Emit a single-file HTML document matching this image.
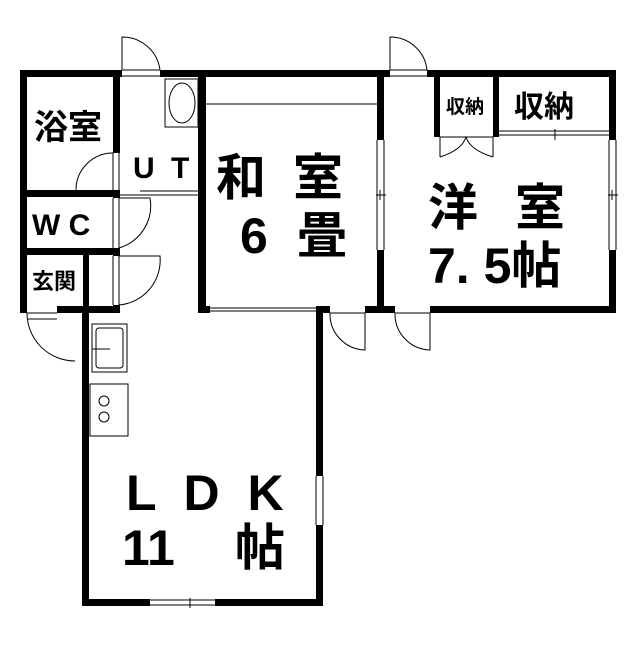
<!DOCTYPE html><html><head><style>body{margin:0;background:#fff}svg text{font-family:"Liberation Sans","Noto Sans CJK JP",sans-serif;fill:#000;font-weight:bold}</style></head><body>
<svg width="640" height="640" viewBox="0 0 640 640" xmlns="http://www.w3.org/2000/svg">
<g fill="#000">
<rect x="20" y="70" width="102" height="7"/><rect x="160" y="70" width="230" height="7"/><rect x="427" y="70" width="189" height="7"/>
<rect x="20" y="70" width="7" height="243"/>
<rect x="113" y="70" width="7" height="83"/><rect x="113" y="190" width="7" height="8"/><rect x="113" y="248" width="7" height="8"/><rect x="113" y="305" width="7" height="8"/>
<rect x="20" y="190" width="100" height="7"/><rect x="20" y="248" width="100" height="7"/>
<rect x="83" y="255" width="6" height="58"/><rect x="57" y="306" width="63" height="7"/>
<rect x="198" y="70" width="8" height="243"/>
<rect x="82" y="306" width="7" height="300"/><rect x="82" y="599" width="68" height="7"/><rect x="215" y="599" width="108" height="7"/>
<rect x="316" y="306" width="7" height="170"/><rect x="316" y="525" width="7" height="81"/>
<rect x="198" y="306" width="12" height="7"/><rect x="320" y="306" width="10" height="7"/><rect x="365" y="306" width="30" height="7"/><rect x="430" y="306" width="186" height="7"/>
<rect x="377" y="70" width="7" height="70"/><rect x="377" y="250" width="7" height="63"/>
<rect x="609" y="70" width="7" height="70"/><rect x="609" y="250" width="7" height="63"/>
<rect x="434" y="70" width="6" height="67"/><rect x="493" y="70" width="6" height="67"/>
</g>
<g fill="none" stroke="#000" stroke-width="1">
<path d="M122 70 V37 A38 38 0 0 1 160 70 M122 70 H160 M122 76 H160"/>
<path d="M390 70 V37 A37 37 0 0 1 427 70 M390 70 H427 M390 76 H427"/>
<path d="M113 153 V190 M119 153 V190 M113 153 A37 37 0 0 0 76 190"/>
<path d="M113 198 V248 M119 198 V248 M119 198 H150 A44 44 0 0 1 119 248"/>
<path d="M113 256 V305 M119 256 V305 M119 256 H160 A45 45 0 0 1 119 305"/>
<path d="M27 313 H57 M27 319 H57 M27 313 A48 48 0 0 0 75 361"/>
<path d="M330 313 H365 V350 A36 36 0 0 1 330 313"/>
<path d="M395 313 H430 V350 A36 36 0 0 1 395 313"/>
<path d="M120 195 H198 M140 191 H198"/>
<path d="M210 308 H320 M210 311 H320"/>
<path d="M377 140 V250 M384 140 V250 M380 190 V200 M376 195 H386"/>
<path d="M609 140 V250 M616 140 V250 M612 190 V200 M608 195 H618"/>
<path d="M316 476 V525 M323 476 V525"/>
<path d="M150 600 H215 M150 605 H215 M190 598 V608"/>
<path d="M206 104 H377"/>
<path d="M440 137 H493 M440 137 V157 M493 137 V157 M440 157 Q462 150 466 137 M493 157 Q470 150 466 137"/>
<path d="M499 131 H609 M499 135 H609 M555 129 V140"/>
<rect x="165" y="79" width="33" height="48"/><ellipse cx="182" cy="103" rx="13" ry="20"/>
<rect x="92" y="324" width="35" height="48"/><rect x="96" y="328" width="27" height="40" rx="3"/><path d="M92 349 H110"/>
<rect x="90" y="384" width="38" height="52"/><circle cx="104" cy="401" r="5"/><circle cx="104" cy="417" r="5"/>
</g>
<text x="34" y="139" font-size="34">浴室</text><text x="133" y="178" font-size="30" letter-spacing="4">U T</text><text x="32" y="235" font-size="30">W C</text><text x="32" y="289" font-size="22">玄関</text>
<text x="446" y="113" font-size="19">収納</text><text x="514" y="117" font-size="30">収納</text>
<g font-size="50"><text x="216" y="195">和</text><text x="293" y="195">室</text><text x="240" y="253">6</text><text x="297" y="253">畳</text>
<text x="428" y="225">洋</text><text x="515" y="225">室</text><text x="428" y="283">7. 5帖</text>
<text x="126" y="510" letter-spacing="7">L D K</text><text x="122" y="565">11</text><text x="235" y="565">帖</text></g>
</svg></body></html>
